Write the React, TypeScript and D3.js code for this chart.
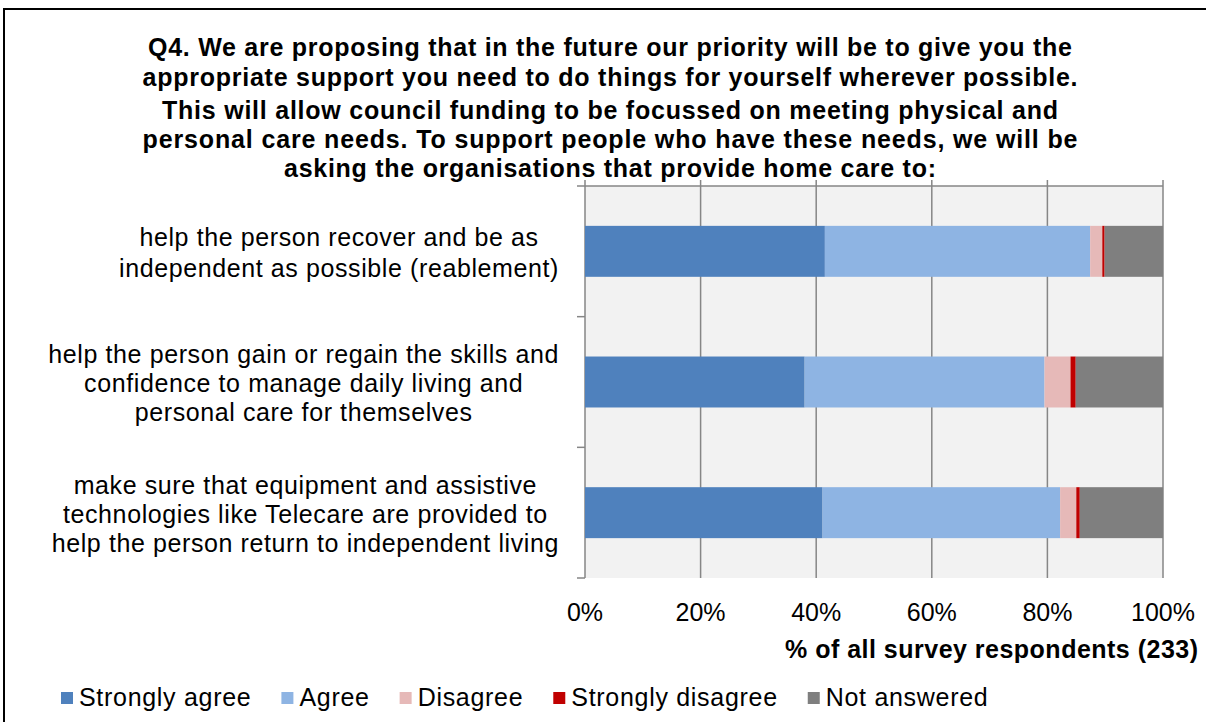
import React, { useEffect, useRef } from "react";
import * as d3 from "d3";

// ---- data ----
const categories: string[][] = [
  ["help the person recover and be as", "independent as possible (reablement)"],
  ["help the person gain or regain the skills and", "confidence to manage daily living and", "personal care for themselves"],
  ["make sure that equipment and assistive", "technologies like Telecare are provided to", "help the person return to independent living"],
];
const seriesNames = ["Strongly agree", "Agree", "Disagree", "Strongly disagree", "Not answered"];
const stronglyAgree = [41.5, 38.0, 41.1];
const agree = [45.9, 41.5, 41.1];
const disagree = [2.1, 4.5, 2.8];
const stronglyDisagree = [0.4, 0.9, 0.6];
const notAnswered = [10.1, 15.1, 14.4];
const xTicks = [0, 20, 40, 60, 80, 100];
const titleLines = [
  "Q4. We are proposing that in the future our priority will be to give you the",
  "appropriate support you need to do things for yourself wherever possible.",
  "This will allow council funding to be focussed on meeting physical and",
  "personal care needs. To support people who have these needs, we will be",
  "asking the organisations that provide home care to:",
];
const axisTitle = "% of all survey respondents (233)";

const colors = ["#4F81BD", "#8EB4E3", "#E6B9B8", "#C00000", "#7F7F7F"];

export default function App() {
  const ref = useRef<SVGSVGElement | null>(null);

  useEffect(() => {
    const svg = d3.select(ref.current);
    svg.selectAll("*").remove();
    const W = 1206, H = 722;
    const font = "'Liberation Sans', Arial, sans-serif";

    // outer border
    svg.append("rect").attr("x", 4).attr("y", 9).attr("width", W + 10).attr("height", H + 10)
      .attr("fill", "#fff").attr("stroke", "#000").attr("stroke-width", 2);

    // title
    const titleWidths = [924, 935, 896, 935, 652];
    const titleY = [56, 86, 119, 148, 177];
    titleLines.forEach((t, i) => {
      svg.append("text").attr("x", 610).attr("y", titleY[i]).attr("text-anchor", "middle")
        .attr("font-family", font).attr("font-weight", "bold").attr("font-size", 25)
        .attr("textLength", titleWidths[i]).attr("lengthAdjust", "spacing")
        .attr("fill", "#000").text(t);
    });

    const plot = { left: 585, right: 1163, top: 186, bottom: 578 };
    const x = d3.scaleLinear().domain([0, 100]).range([plot.left, plot.right]);
    const y = d3.scaleBand<number>().domain(categories.map((_, i) => i))
      .range([plot.top, plot.bottom]).paddingInner(0.61).paddingOuter(0.305);

    // plot background
    svg.append("rect").attr("x", plot.left).attr("y", plot.top)
      .attr("width", plot.right - plot.left).attr("height", plot.bottom - plot.top).attr("fill", "#F2F2F2");

    // gridlines (extend above as ticks)
    xTicks.forEach((t) => {
      svg.append("line").attr("x1", x(t)).attr("x2", x(t)).attr("y1", plot.top - 6).attr("y2", plot.bottom)
        .attr("stroke", "#868686").attr("stroke-width", 1.5);
    });
    // top axis line
    svg.append("line").attr("x1", plot.left).attr("x2", plot.right).attr("y1", plot.top).attr("y2", plot.top)
      .attr("stroke", "#868686").attr("stroke-width", 1.5);
    // category axis ticks
    const catEdges = [plot.top, ...categories.map((_, i) => (y(i) as number) + y.bandwidth() / 2 + y.step() / 2)];
    catEdges.forEach((e) => {
      svg.append("line").attr("x1", plot.left - 8).attr("x2", plot.left).attr("y1", e).attr("y2", e)
        .attr("stroke", "#868686").attr("stroke-width", 1.5);
    });

    // stacked bars
    const rows = categories.map((_, i) => ({
      i,
      s0: stronglyAgree[i], s1: agree[i], s2: disagree[i], s3: stronglyDisagree[i], s4: notAnswered[i],
    }));
    const stack = d3.stack<any>().keys(["s0", "s1", "s2", "s3", "s4"]);
    const series = stack(rows);
    series.forEach((s, si) => {
      svg.append("g").selectAll("rect").data(s).join("rect")
        .attr("x", (d) => x(d[0]))
        .attr("width", (d) => x(d[1]) - x(d[0]))
        .attr("y", (d) => y((d.data as any).i) as number)
        .attr("height", y.bandwidth())
        .attr("fill", colors[si]);
    });

    // category labels
    categories.forEach((lines, i) => {
      const cy = (y(i) as number) + y.bandwidth() / 2 + 1;
      const lh = lines.length === 2 ? 31 : 29;
      const g = svg.append("g");
      const texts = lines.map((l, li) =>
        g.append("text").attr("y", cy + (li - (lines.length - 1) / 2) * lh + 9)
          .attr("font-family", font).attr("font-size", 25).attr("letter-spacing", 0.6)
          .attr("text-anchor", "middle").attr("fill", "#000").text(l)
      );
      const maxW = d3.max(texts, (t) => (t.node() as SVGTextElement).getComputedTextLength()) || 0;
      texts.forEach((t) => t.attr("x", 559 - maxW / 2));
    });

    // x tick labels
    xTicks.forEach((t) => {
      svg.append("text").attr("x", x(t)).attr("y", 621).attr("text-anchor", "middle")
        .attr("font-family", font).attr("font-size", 25).attr("fill", "#000").text(`${t}%`);
    });

    // axis title
    svg.append("text").attr("x", 1198).attr("y", 658).attr("text-anchor", "end")
      .attr("font-family", font).attr("font-weight", "bold").attr("font-size", 25)
      .attr("textLength", 413).attr("lengthAdjust", "spacing").attr("fill", "#000").text(axisTitle);

    // legend
    let lx = 61;
    seriesNames.forEach((n, i) => {
      svg.append("rect").attr("x", lx).attr("y", 692).attr("width", 12).attr("height", 12).attr("fill", colors[i]);
      const t = svg.append("text").attr("x", lx + 18).attr("y", 706)
        .attr("font-family", font).attr("font-size", 25).attr("letter-spacing", 0.7).attr("fill", "#000").text(n);
      const w = (t.node() as SVGTextElement).getComputedTextLength();
      lx = lx + 18 + w + 30;
    });
  }, []);

  return (
    <svg ref={ref} width={1206} height={722}
      style={{ position: "fixed", left: 0, top: 0, background: "#fff" }} />
  );
}
